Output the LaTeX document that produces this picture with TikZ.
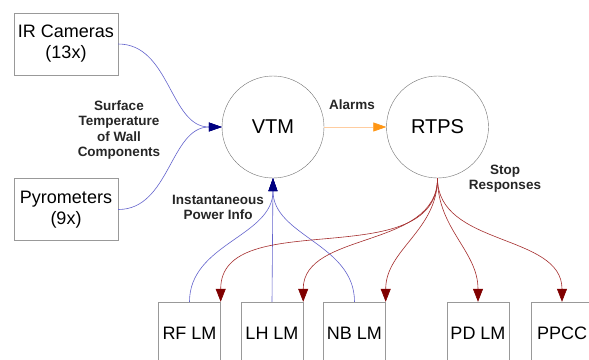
\documentclass[tikz,border=0pt]{standalone}
\usepackage{fontspec}
\setmainfont{Liberation Sans}
\usepackage{xcolor}
\usepackage{tikz}
\usetikzlibrary{arrows.meta}
\definecolor{feedblue}{RGB}{100,100,205}
\definecolor{tipblue}{RGB}{0,0,128}
\definecolor{stopred}{RGB}{165,45,45}
\definecolor{tipred}{RGB}{128,0,0}
\definecolor{alarmorange}{RGB}{255,205,160}
\definecolor{tiporange}{RGB}{255,150,20}

\begin{document}
\begin{tikzpicture}[x = 1pt, y = -1pt,
  sensor/.style = {draw = black!40, minimum width = 104pt, minimum height = 62pt, inner sep = 0, align = center, font = \fontsize{18}{21}\selectfont},
  unit/.style = {draw = black!40, minimum width = 62pt, minimum height = 62pt, inner sep = 0, font = \fontsize{18}{21}\selectfont},
  monitor/.style = {draw = black!55, circle, minimum size = 102pt, inner sep = 0, font = \fontsize{20}{24}\selectfont},
  tag/.style = {align = center, text = black!85, font = \bfseries\fontsize{13.5}{15.3}\selectfont},
  feed/.style = {feedblue, line width = .6pt, -{Triangle[length = 13pt, width = 9pt, color = tipblue]}},
  stopline/.style = {stopred, line width = .6pt, -{Triangle[length = 13pt, width = 10pt, color = tipred]}}]
  \useasboundingbox (0, 0) rectangle (589, 359);
  \clip (0, 0) rectangle (589, 359);
  \fill[white] (0, 0) rectangle (589, 359);
  % sources and monitors
  \node[sensor] (ircam) at (66, 44) {IR Cameras\\(13x)};
  \node[sensor] (pyro) at (66, 209.5) {Pyrometers\\(9x)};
  \node[monitor] (vtm) at (273, 127) {VTM};
  \node[monitor] (rtps) at (437.5, 127) {RTPS};
  % plant units
  \node[unit] (rflm) at (189.5, 333) {RF LM};
  \node[unit] (lhlm) at (272, 333) {LH LM};
  \node[unit] (nblm) at (354.5, 333) {NB LM};
  \node[unit] (pdlm) at (478, 333) {PD LM};
  \node[unit] (ppcc) at (562, 333) {PPCC};
  % labels
  \node[tag] (surftag) at (119, 130) {Surface\\Temperature\\of Wall\\Components};
  \node[tag] (alarmtag) at (352, 105) {Alarms};
  \node[tag] (powertag) at (218, 207.5) {Instantaneous\\Power Info};
  \node[tag] (stoptag) at (505, 178.5) {Stop\\Responses};
  % temperature inputs
  \draw[feed] (ircam.east) to[out = 0, in = 180] (vtm.west);
  \draw[feed] (pyro.east) to[out = 0, in = 180] (vtm.west);
  % power info
  \draw[feed] (rflm.north) to[out = 90, in = -90] (vtm.south);
  \draw[feed] (lhlm.north) -- (vtm.south);
  \draw[feed] (nblm.north) to[out = 90, in = -90] (vtm.south);
  % alarms
  \draw[alarmorange, line width = .6pt, -{Triangle[length = 13pt, width = 9pt, color = tiporange]}] (vtm.east) -- (rtps.west);
  % stop responses
  \draw[stopline] (rtps.south) to[out = -90, in = 90] (rflm.north east);
  \draw[stopline] (rtps.south) to[out = -90, in = 90] (lhlm.north east);
  \draw[stopline] (rtps.south) to[out = -90, in = 90] (nblm.north east);
  \draw[stopline] (rtps.south) to[out = -90, in = 90] (pdlm.north);
  \draw[stopline] (rtps.south) to[out = -90, in = 90] (ppcc.north);
\end{tikzpicture}
\end{document}
